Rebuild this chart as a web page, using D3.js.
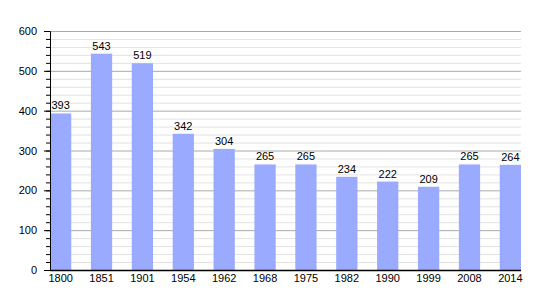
<!DOCTYPE html>
<html>
<head>
<meta charset="utf-8">
<script src="https://cdn.jsdelivr.net/npm/d3@7"></script>
<style>
  body { margin: 0; background: #fff; }
  text { font-family: "Liberation Sans", Arial, sans-serif; font-size: 11px; fill: #000; }
</style>
</head>
<body>
<script>
const years = ["1800", "1851", "1901", "1954", "1962", "1968", "1975", "1982", "1990", "1999", "2008", "2014"];
const population = [393, 543, 519, 342, 304, 265, 265, 234, 222, 209, 265, 264];
const yTicks = [0, 100, 200, 300, 400, 500, 600];

const w = 550, h = 300;
const m = { t: 31, r: 29, b: 30, l: 50 };
const gw = w - m.l - m.r;
const gh = h - m.t - m.b;

const svg = d3.select("body").append("svg").attr("width", w).attr("height", h);
const g = svg.append("g").attr("transform", `translate(${m.l}, ${m.t})`);

const x = d3.scaleBand().domain(years).range([0, gw]).paddingInner(0.48).paddingOuter(0);
const y = d3.scaleLinear().domain([0, 600]).range([gh, 0]);

// minor grid
g.append("g")
  .selectAll("line")
  .data(d3.range(0, 601, 20).filter((d) => d % 100 !== 0))
  .join("line")
  .attr("x1", 0).attr("x2", gw)
  .attr("y1", (d) => y(d) + 0.5).attr("y2", (d) => y(d) + 0.5)
  .attr("stroke", "#e2e2e2");

// major grid
g.append("g")
  .selectAll("line")
  .data(yTicks.filter((d) => d > 0))
  .join("line")
  .attr("x1", 0).attr("x2", gw)
  .attr("y1", (d) => y(d) + 0.5).attr("y2", (d) => y(d) + 0.5)
  .attr("stroke", "#aaaaaa");

// bars
g.selectAll("rect")
  .data(population)
  .join("rect")
  .attr("x", (d, i) => x(years[i]))
  .attr("y", (d) => y(d))
  .attr("width", x.bandwidth())
  .attr("height", (d) => gh - y(d))
  .attr("fill", "#99aaff");

// value labels
g.append("g")
  .selectAll("text")
  .data(population)
  .join("text")
  .attr("x", (d, i) => x(years[i]) + x.bandwidth() / 2)
  .attr("y", (d) => y(d) - 4)
  .attr("text-anchor", "middle")
  .text((d) => d);

// y axis with minor ticks
const yMinor = d3.axisLeft(y).tickValues(d3.range(0, 601, 20)).tickSize(4).tickFormat("");
g.append("g").call(yMinor).call((s) => s.select(".domain").remove())
  .selectAll("line").attr("stroke", "#000");

const yAxis = d3.axisLeft(y).tickValues(yTicks).tickSize(6).tickPadding(7);
g.append("g").call(yAxis)
  .call((s) => s.selectAll("text").style("font-size", "11px").style("font-family", "Liberation Sans, Arial, sans-serif"))
  .call((s) => s.select(".domain").attr("stroke", "#000"));

// x axis
const xAxis = d3.axisBottom(x).tickSize(0).tickPadding(4);
g.append("g")
  .attr("transform", `translate(0, ${gh})`)
  .call(xAxis)
  .call((s) => s.select(".domain").attr("d", `M0,0.5H${gw}`).attr("stroke", "#000").attr("stroke-width", 1.5))
  .call((s) => s.selectAll("text").style("font-size", "11px").style("font-family", "Liberation Sans, Arial, sans-serif"));
</script>
</body>
</html>
